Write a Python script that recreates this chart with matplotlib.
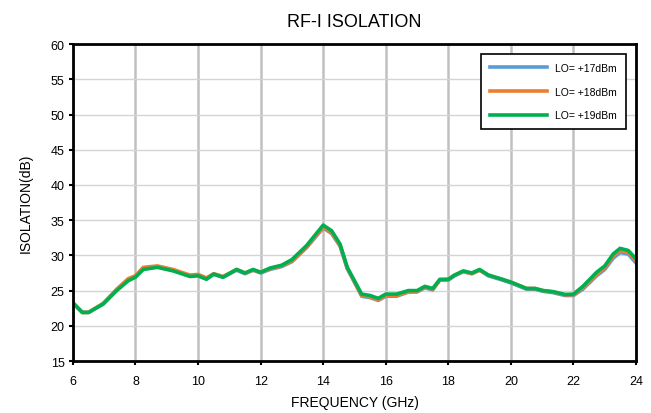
import matplotlib
matplotlib.use("Agg")
import matplotlib.pyplot as plt

plt.rcParams['font.family'] = ['Liberation Sans', 'DejaVu Sans']

# frequency points (GHz)
freq = [6.0, 6.3, 6.5, 6.97, 7.4, 7.77, 8.0, 8.25, 8.7, 9.2, 9.74, 10.0, 10.27,
        10.5, 10.8, 11.23, 11.5, 11.76, 12.0, 12.3, 12.67, 13.0, 13.47, 14.0,
        14.27, 14.54, 14.77, 15.0, 15.23, 15.5, 15.76, 16.0, 16.35, 16.72, 17.0,
        17.25, 17.5, 17.73, 18.0, 18.2, 18.48, 18.75, 19.0, 19.28, 19.65, 20.0,
        20.5, 20.77, 21.03, 21.35, 21.73, 22.0, 22.3, 22.74, 23.0, 23.27, 23.49,
        23.75, 24.0]

iso_19 = [23.3, 21.9, 21.9, 23.1, 25.0, 26.4, 26.9, 28.0, 28.3, 27.8, 27.0,
          27.1, 26.6, 27.35, 26.9, 28.0, 27.5, 28.0, 27.6, 28.2, 28.6, 29.4,
          31.4, 34.3, 33.5, 31.6, 28.3, 26.4, 24.5, 24.3, 23.9, 24.5, 24.5,
          25.0, 25.0, 25.6, 25.3, 26.6, 26.6, 27.2, 27.8, 27.5, 28.0, 27.2,
          26.7, 26.2, 25.3, 25.3, 25.0, 24.85, 24.45, 24.5, 25.6, 27.6, 28.5,
          30.2, 31.0, 30.7, 29.5]

iso_18 = [23.2, 21.9, 21.9, 23.2, 25.2, 26.7, 27.1, 28.3, 28.5, 28.0, 27.2,
          27.3, 26.8, 27.4, 27.0, 28.0, 27.5, 27.9, 27.6, 28.1, 28.5, 29.2,
          31.2, 34.0, 33.2, 31.4, 28.2, 26.2, 24.3, 24.1, 23.7, 24.3, 24.3,
          24.8, 24.9, 25.5, 25.2, 26.5, 26.6, 27.2, 27.7, 27.4, 27.9, 27.2,
          26.7, 26.2, 25.3, 25.3, 25.0, 24.8, 24.4, 24.4, 25.4, 27.3, 28.2,
          29.9, 30.7, 30.4, 29.2]

iso_17 = [23.2, 21.9, 21.9, 23.1, 25.1, 26.6, 27.0, 28.2, 28.4, 27.9, 27.1,
          27.2, 26.7, 27.3, 26.9, 27.9, 27.4, 27.9, 27.5, 28.0, 28.4, 29.1,
          31.1, 33.9, 33.1, 31.3, 28.1, 26.2, 24.2, 24.0, 23.6, 24.2, 24.2,
          24.8, 24.8, 25.4, 25.1, 26.5, 26.5, 27.1, 27.7, 27.4, 27.9, 27.1,
          26.6, 26.1, 25.2, 25.2, 24.9, 24.7, 24.3, 24.3, 25.2, 27.1, 28.0,
          29.6, 30.4, 30.2, 28.9]

series = [("LO= +17dBm", iso_17, "#5B9BD5"),
          ("LO= +18dBm", iso_18, "#ED7D31"),
          ("LO= +19dBm", iso_19, "#00B050")]

fig = plt.figure(figsize=(6.51, 4.14), dpi=100)
ax = fig.add_axes([0.112, 0.1256, 0.865, 0.7654])

for label, vals, color in series:
    ax.plot(freq, vals, color=color, lw=2.6, label=label, solid_joinstyle='round')

ax.set_xlim(6, 24)
ax.set_ylim(15, 60)
ax.set_xticks(range(6, 25, 2))
ax.set_yticks(range(15, 61, 5))
ax.grid(axis='x', color='#c0c0c0', lw=1.8)
ax.grid(axis='y', color='#d4d4d4', lw=1.0)
ax.set_axisbelow(True)
for sp in ax.spines.values():
    sp.set_linewidth(2.0)
    sp.set_color('black')
ax.tick_params(direction='out', length=3, width=1.5, labelsize=9, pad=3)
ax.tick_params(axis='x', pad=7)

ax.set_title("RF-I ISOLATION", fontsize=13, pad=13)
ax.set_xlabel("FREQUENCY (GHz)", fontsize=10, labelpad=6)
ax.set_ylabel("ISOLATION(dB)", fontsize=10, labelpad=13)

leg = ax.legend(loc='upper right', bbox_to_anchor=(0.982, 0.968), fontsize=7.5,
                fancybox=False, framealpha=1, edgecolor='black',
                handlelength=5.5, labelspacing=1.3, borderpad=0.85,
                handletextpad=0.8, borderaxespad=0)
leg.get_frame().set_linewidth(1.2)

fig.savefig("out.png", dpi=100)
